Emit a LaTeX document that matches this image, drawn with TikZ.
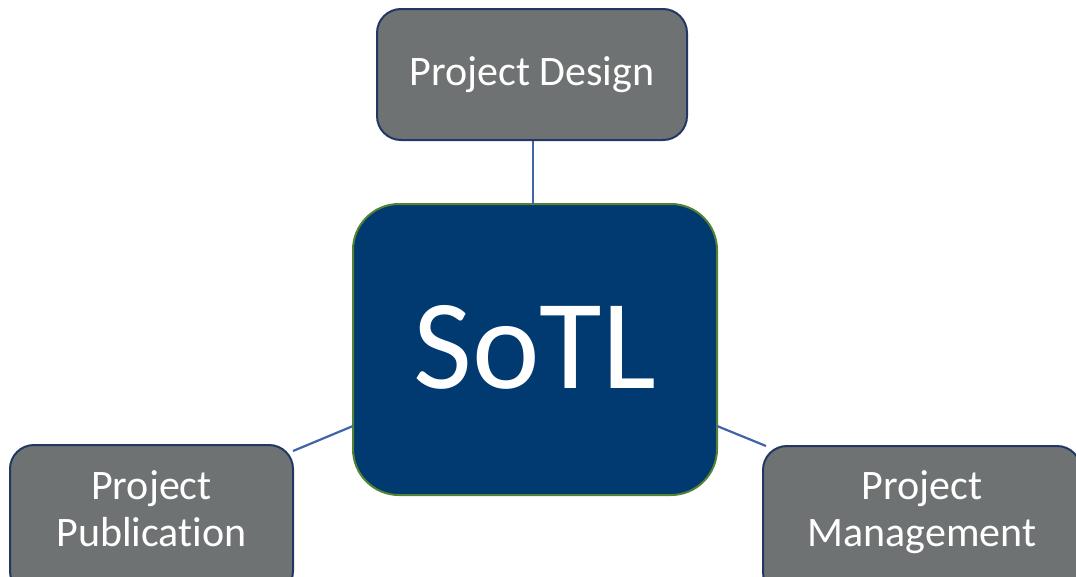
\documentclass[tikz,border=0pt]{standalone}
\usepackage{fontspec}
\setmainfont{Carlito}[Ligatures={NoCommon}]
\definecolor{boxgray}{RGB}{111,114,114}
\definecolor{boxedge}{RGB}{33,56,100}
\definecolor{corefill}{RGB}{0,58,112}
\definecolor{coreedge}{RGB}{84,130,53}
\definecolor{linkblue}{RGB}{64,100,168}
\newcommand{\twolines}[2]{\begin{tabular}{@{}c@{}}#1\\#2\end{tabular}}
\tikzset{
  side/.style={draw=boxedge, line width=2pt, fill=boxgray, rounded corners=24pt,
    text=white, font=\fontsize{42}{47}\selectfont, inner sep=0pt},
  sidetext/.style={text=white, font=\fontsize{42}{47}\selectfont, inner sep=0pt},
  core/.style={draw=coreedge, line width=2pt, fill=corefill, rounded corners=46pt,
    text=white, font=\fontsize{128}{140}\selectfont, inner sep=0pt},
  link/.style={draw=linkblue, line width=2.2pt}
}
\begin{document}
\begin{tikzpicture}[x=1pt,y=-1pt]
\useasboundingbox (0,0) rectangle (1076,576);
\node[core, minimum width=364pt, minimum height=291pt] (sotl) at (535,349.5) {\raisebox{6pt}{SoTL}};
\node[side, minimum width=310pt, minimum height=131pt] (design) at (532,74.5) {Project Design};
\node[side, minimum width=283pt, minimum height=150pt] (pub) at (151.5,520) {};
\node[side, minimum width=318pt, minimum height=150pt] (mgmt) at (922,521) {};
\node[sidetext] (pubtext) at (151.5,514) {\twolines{Project}{Publication}};
\node[sidetext] (mgmttext) at (922,514) {\twolines{Project}{Management}};
\coordinate (cTop) at (533,204);
\coordinate (dBot) at (533,140);
\coordinate (cLeft) at (353,426);
\coordinate (pRight) at (293,451);
\coordinate (cRight) at (717,426);
\coordinate (mLeft) at (766,446);
\draw[link] (design.south -| dBot) -- (cTop);
\draw[link] (pRight) -- (cLeft);
\draw[link] (cRight) -- (mLeft);
\end{tikzpicture}
\end{document}
